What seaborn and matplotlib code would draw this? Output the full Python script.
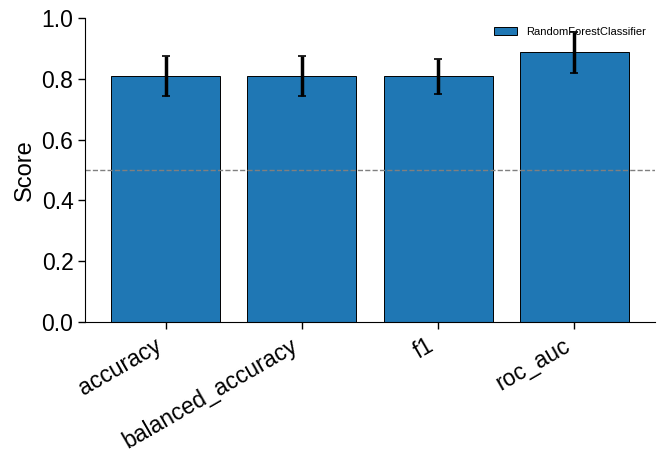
import matplotlib
matplotlib.use('Agg')

import seaborn as sns
import matplotlib.pyplot as plt
import pandas as pd

# --- Veriler ---
metrics = ['accuracy', 'balanced_accuracy', 'f1', 'roc_auc']
means = [0.809, 0.809, 0.809, 0.888]
errors = [0.066, 0.066, 0.058, 0.068]
model = 'RandomForestClassifier'

df = pd.DataFrame({'metric': metrics, 'score': means, 'model': model})

sns.set_style('ticks')
plt.rcParams['font.family'] = ['Liberation Sans', 'DejaVu Sans']
plt.rcParams['text.color'] = 'black'
plt.rcParams['axes.labelcolor'] = 'black'
plt.rcParams['xtick.color'] = 'black'
plt.rcParams['ytick.color'] = 'black'
plt.rcParams['axes.edgecolor'] = 'black'

fig, ax = plt.subplots(figsize=(6.66, 4.66), dpi=100)
fig.subplots_adjust(left=0.128, right=0.983, top=0.961, bottom=0.309)

sns.barplot(data=df, x='metric', y='score', hue='model', palette=['#1f77b4'],
            edgecolor='black', linewidth=0.7, width=0.8, saturation=1, ax=ax)

# hata çubukları
ax.errorbar(range(len(metrics)), means, yerr=errors, fmt='none',
            ecolor='black', elinewidth=2.5, capsize=3, capthick=1.2, zorder=5)

ax.axhline(0.5, color='gray', linestyle='--', linewidth=1)

ax.set_xlim(-0.59, len(metrics) - 1 + 0.59)
ax.set_ylim(0, 1.0)
ax.set_xlabel('')
ax.set_ylabel('Score', fontsize=17)
ax.tick_params(axis='both', labelsize=16.5, length=5, width=1)
plt.setp(ax.get_xticklabels(), rotation=30, ha='right')
sns.despine(ax=ax)

ax.legend(loc='upper right', frameon=False, fontsize=8,
          handlelength=2.1, handleheight=0.7, borderaxespad=0.4)

plt.savefig('out.png', dpi=100)
plt.close()
